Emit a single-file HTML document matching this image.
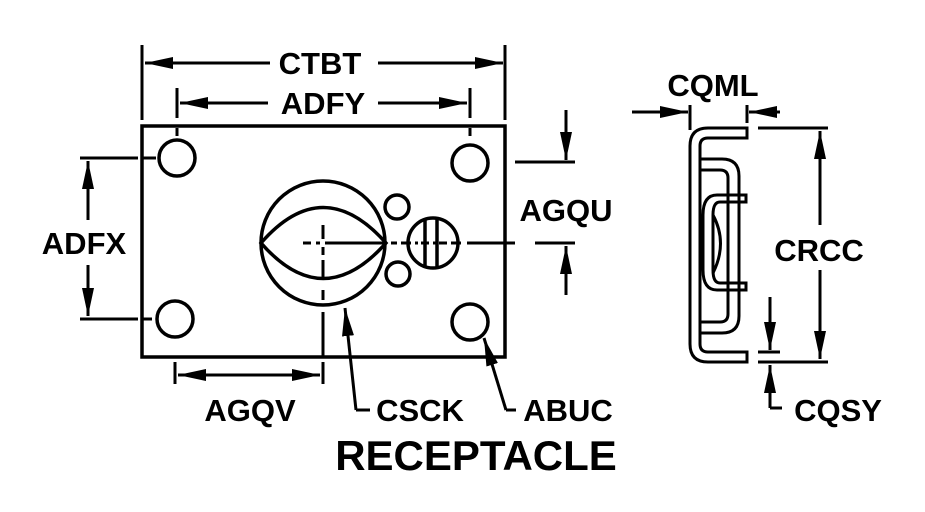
<!DOCTYPE html>
<html><head><style>body{margin:0;background:#fff}svg{display:block}text{font-family:"Liberation Sans",Arial,sans-serif;font-weight:bold;fill:#000}</style></head><body>
<svg width="925" height="512" viewBox="0 0 925 512" xmlns="http://www.w3.org/2000/svg">
<defs>
<marker id="a" markerWidth="30" markerHeight="12" refX="28" refY="6" orient="auto" markerUnits="userSpaceOnUse"><path d="M0,0 L28,6 L0,12 Z" fill="#000"/></marker>
</defs>
<g stroke="#000" stroke-width="3.5" fill="none">
<rect x="142" y="126" width="363" height="231"/>
<circle cx="177" cy="158" r="18"/><circle cx="470" cy="163" r="18"/>
<circle cx="175" cy="319" r="18"/><circle cx="470" cy="322" r="18"/>
<circle cx="323" cy="243" r="62"/>
<path d="M261,243 Q323,172 386,243 Q323,314 261,243 Z"/>
<circle cx="397" cy="207" r="12"/><circle cx="398" cy="274" r="12"/>
<circle cx="433" cy="243" r="25"/>
<line x1="425" y1="219" x2="425" y2="267"/><line x1="437" y1="219" x2="437" y2="267"/>
</g>
<g stroke="#000" stroke-width="3" fill="none">
<path d="M303,243h8M316,243h4M325,243h62M391,243h6M401,243h10M415,243h3M421,243h8M433,243h3M439,243h8M451,243h10M467,243h3M470,243h45M535,243h40"/>
<path d="M323,225v14M323,247v8M323,260v18M323,290v10M323,312v45"/>
<path d="M177,128v8M470,128v8M130,158h8M142,158h14M130,319h8M142,319h10"/>
<path d="M142,45v75M505,45v75M177,88v30M470,88v30"/>
<line x1="270" y1="63" x2="145" y2="63" marker-end="url(#a)"/>
<line x1="378" y1="63" x2="503" y2="63" marker-end="url(#a)"/>
<line x1="268" y1="103" x2="180" y2="103" marker-end="url(#a)"/>
<line x1="378" y1="103" x2="467" y2="103" marker-end="url(#a)"/>
<path d="M80,158h55M80,319h55"/>
<line x1="88" y1="220" x2="88" y2="161" marker-end="url(#a)"/>
<line x1="88" y1="265" x2="88" y2="316" marker-end="url(#a)"/>
<path d="M515,162h60"/>
<line x1="566" y1="110" x2="566" y2="160" marker-end="url(#a)"/>
<line x1="566" y1="295" x2="566" y2="246" marker-end="url(#a)"/>
<path d="M175,362v22M323,362v22"/>
<line x1="250" y1="375" x2="178" y2="375" marker-end="url(#a)"/>
<line x1="250" y1="375" x2="320" y2="375" marker-end="url(#a)"/>
<path d="M356,410h14"/><line x1="356" y1="410" x2="345" y2="308" marker-end="url(#a)"/>
<path d="M506,410h10"/><line x1="506" y1="410" x2="484" y2="338" marker-end="url(#a)"/>
<path d="M690,105v25M747,105v18"/>
<line x1="632" y1="112" x2="688" y2="112" marker-end="url(#a)"/>
<line x1="780" y1="112" x2="749" y2="112" marker-end="url(#a)"/>
<path d="M758,128h70M758,362h70M758,352h22"/>
<line x1="820" y1="225" x2="820" y2="131" marker-end="url(#a)"/>
<line x1="820" y1="270" x2="820" y2="359" marker-end="url(#a)"/>
<line x1="770" y1="297" x2="770" y2="350" marker-end="url(#a)"/>
<line x1="770" y1="408" x2="770" y2="365" marker-end="url(#a)"/>
<path d="M770,408h12"/>
<path d="M747,128H708Q690,128 690,146V344Q690,362 708,362H747V352H708Q700,352 700,344V146Q700,138 708,138H747Z"/>
<path d="M700,159H722Q739,159 739,176V316Q739,333 722,333H700"/>
<path d="M700,170H720Q728,170 728,178V314Q728,322 720,322H700"/>
<path d="M746,195H717Q703,195 703,215V270Q703,290 717,290H746V283H720Q713,283 713,270V215Q713,202 720,202H746Z"/>
<path d="M713,215Q728,243 713,273"/>
</g>
<text x="320" y="74" font-size="31" text-anchor="middle">CTBT</text>
<text x="323" y="114" font-size="31" text-anchor="middle">ADFY</text>
<text x="84" y="254" font-size="31" text-anchor="middle">ADFX</text>
<text x="566" y="221" font-size="31" text-anchor="middle">AGQU</text>
<text x="250" y="421" font-size="31" text-anchor="middle">AGQV</text>
<text x="420" y="421" font-size="31" text-anchor="middle">CSCK</text>
<text x="568" y="421" font-size="31" text-anchor="middle">ABUC</text>
<text x="476" y="470" font-size="42" text-anchor="middle">RECEPTACLE</text>
<text x="713" y="96" font-size="31" text-anchor="middle">CQML</text>
<text x="819" y="261" font-size="31" text-anchor="middle">CRCC</text>
<text x="838" y="421" font-size="31" text-anchor="middle">CQSY</text>
</svg>
</body></html>
